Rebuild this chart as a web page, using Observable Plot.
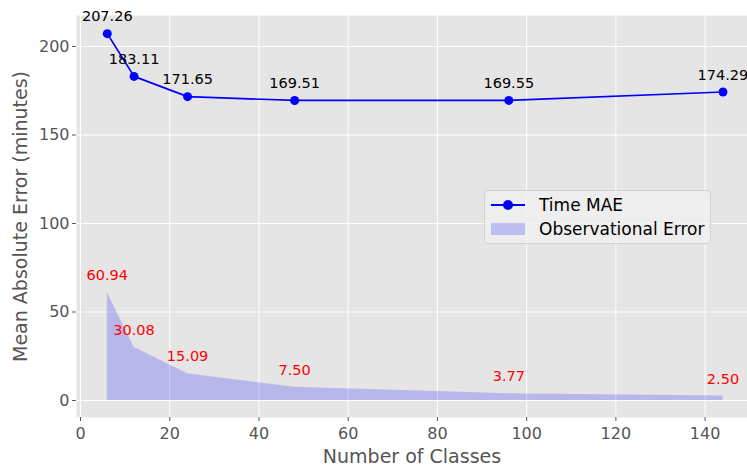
<!DOCTYPE html>
<html>
<head>
<meta charset="utf-8">
<script src="https://cdn.jsdelivr.net/npm/d3@7"></script>
<script src="https://cdn.jsdelivr.net/npm/@observablehq/plot@0.6"></script>
<style>
  body { margin: 0; background: #fff; font-family: "DejaVu Sans", sans-serif; }
  #chart { position: relative; width: 747px; height: 467px; overflow: hidden; }
  .legend {
    position: absolute; left: 484px; top: 190px; width: 227px; height: 54px;
    box-sizing: border-box; border: 1px solid #d2d2d2; border-radius: 4px;
    background: rgba(240,240,240,0.8); font-size: 17px; color: #000;
  }
  .legend .row { position: absolute; left: 0; height: 20px; display: flex; align-items: center; white-space: nowrap; }
  .legend .key { width: 34px; margin-left: 6px; margin-right: 14px; position: relative; height: 20px; }
  .legend .line { position: absolute; left: 0; right: 0; top: 9px; height: 2px; background: blue; }
  .legend .dot { position: absolute; left: 12px; top: 5px; width: 10px; height: 10px; border-radius: 50%; background: blue; }
  .legend .patch { position: absolute; left: 0; right: 0; top: 4px; height: 12px; background: rgba(0,0,255,0.2); }
</style>
</head>
<body>
<div id="chart"></div>
<script>
// Number of classes and the two error series (minutes)
const classes = [6, 12, 24, 48, 96, 144];
const timeMAE = [207.26, 183.11, 171.65, 169.51, 169.55, 174.29];
const obsError = [60.94, 30.08, 15.09, 7.50, 3.77, 2.50];
const xTicks = [0, 20, 40, 60, 80, 100, 120, 140];
const yTicks = [0, 50, 100, 150, 200];
const xLabel = "Number of Classes";
const yLabel = "Mean Absolute Error (minutes)";

const rows = classes.map((c, i) => ({classes: c, mae: timeMAE[i], obs: obsError[i]}));

const plot = Plot.plot({
  width: 747,
  height: 467,
  marginLeft: 76,
  marginRight: 0,
  marginTop: 15,
  marginBottom: 50,
  style: {fontFamily: "DejaVu Sans, sans-serif", background: "#fff", overflow: "visible"},
  x: {domain: [-0.9, 149.5]},
  y: {domain: [-9.6, 217.5]},
  marks: [
    Plot.frame({fill: "#e5e5e5", stroke: null}),
    Plot.gridX(xTicks, {stroke: "#fff", strokeOpacity: 1, strokeWidth: 1}),
    Plot.gridY(yTicks, {stroke: "#fff", strokeOpacity: 1, strokeWidth: 1}),
    Plot.axisX(xTicks, {
      tickSize: 4, tickPadding: 6, fontSize: 16, color: "#555",
      stroke: "#555", label: null
    }),
    Plot.axisY(yTicks, {
      tickSize: 4, tickPadding: 3, fontSize: 16, color: "#555",
      stroke: "#555", label: null
    }),
    // axis titles
    Plot.text([xLabel], {frameAnchor: "bottom", dy: 45, fontSize: 19, fill: "#555"}),
    Plot.text([yLabel], {frameAnchor: "left", dx: -56, rotate: -90, textAnchor: "middle", fontSize: 19, fill: "#555"}),
    Plot.areaY(rows, {x: "classes", y: "obs", fill: "blue", fillOpacity: 0.2}),
    Plot.line(rows, {x: "classes", y: "mae", stroke: "blue", strokeWidth: 1.7}),
    Plot.dot(rows, {x: "classes", y: "mae", r: 4.5, fill: "blue", stroke: "none"}),
    Plot.text(rows, {x: "classes", y: "mae", text: d => d.mae.toFixed(2), dy: -17, fontSize: 14.5, fill: "#000"}),
    Plot.text(rows, {x: "classes", y: "obs", text: d => d.obs.toFixed(2), dy: -17, fontSize: 14.5, fill: "red"})
  ]
});

const chart = document.getElementById("chart");
chart.appendChild(plot);

const legend = document.createElement("div");
legend.className = "legend";
legend.innerHTML = `
  <div class="row" style="top:4px"><div class="key"><div class="line"></div><div class="dot"></div></div>Time MAE</div>
  <div class="row" style="top:28px"><div class="key"><div class="patch"></div></div>Observational Error</div>`;
chart.appendChild(legend);
</script>
</body>
</html>
